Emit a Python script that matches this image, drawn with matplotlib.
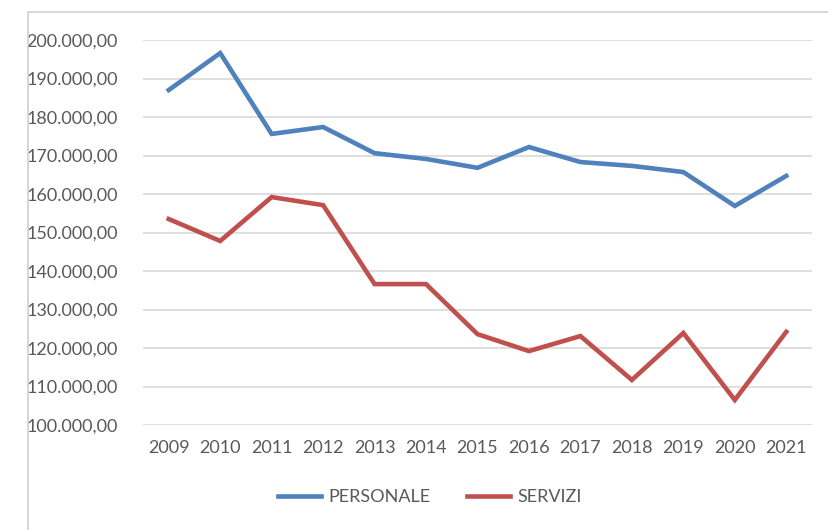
import matplotlib
matplotlib.use("Agg")
import matplotlib.pyplot as plt
from matplotlib.ticker import FuncFormatter, MultipleLocator
from matplotlib.patches import Rectangle

plt.rcParams['font.family'] = ['Lato', 'DejaVu Sans']

anni = ["2009", "2010", "2011", "2012", "2013", "2014", "2015",
        "2016", "2017", "2018", "2019", "2020", "2021"]
personale = [187000, 196600, 175600, 177400, 170600, 169100, 166800,
             172200, 168300, 167300, 165700, 156900, 164700]
servizi = [153500, 147800, 159200, 157100, 136600, 136600, 123600,
           119200, 123100, 111700, 123900, 106500, 124200]

BLU = "#4F81BD"
ROSSO = "#C0504D"
GRIGIO = "#595959"


def euro(v, pos):
    s = f"{v:,.2f}"
    return s.replace(",", "X").replace(".", ",").replace("X", ".")


fig = plt.figure(figsize=(8.29, 5.30), dpi=100)
# cornice del grafico (stile Excel)
fig.patches.append(Rectangle((28 / 829, -0.01), 1.0, 1 - 12 / 530 + 0.01,
                             transform=fig.transFigure, fill=False,
                             edgecolor="#D0D0D0", linewidth=1.2))

ax = fig.add_axes([143 / 829, 1 - 425 / 530, (812 - 143) / 829, (425 - 40) / 530])
x = list(range(len(anni)))
ax.plot(x, personale, color=BLU, linewidth=3.3, label="PERSONALE", solid_joinstyle="miter")
ax.plot(x, servizi, color=ROSSO, linewidth=3.3, label="SERVIZI", solid_joinstyle="miter")

ax.set_ylim(100000, 200000)
ax.set_xlim(-0.5, len(anni) - 0.5)
ax.yaxis.set_major_locator(MultipleLocator(10000))
ax.yaxis.set_major_formatter(FuncFormatter(euro))
ax.set_xticks(x)
ax.set_xticklabels(anni)
ax.grid(axis="y", color="#D9D9D9", linewidth=1.2)
ax.set_axisbelow(True)
for s in ax.spines.values():
    s.set_visible(False)
ax.tick_params(axis="both", length=0, labelsize=13, labelcolor=GRIGIO)
ax.tick_params(axis="y", pad=18)
ax.tick_params(axis="x", pad=11)

ax.legend(loc="center", bbox_to_anchor=(430 / 829, 1 - 497 / 530),
          bbox_transform=fig.transFigure, ncol=2, frameon=False,
          fontsize=13, labelcolor=GRIGIO, handlelength=2.4,
          columnspacing=2.0, handletextpad=0.4)

fig.savefig("out.png", dpi=100, facecolor="white")
